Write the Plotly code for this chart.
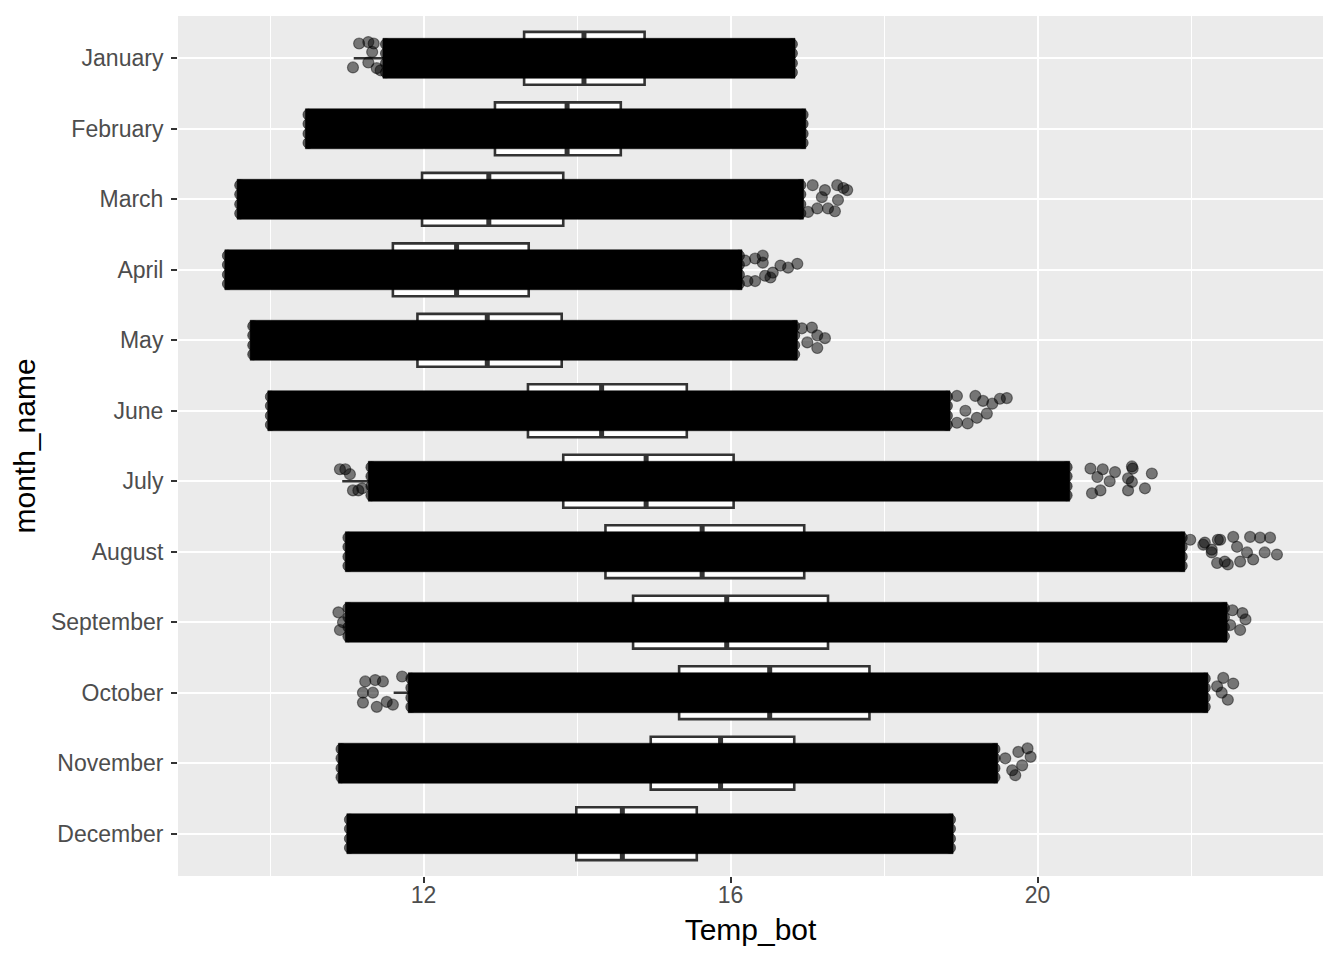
import plotly.graph_objects as go

# ---------------- data ----------------
months = ["January", "February", "March", "April", "May", "June", "July",
          "August", "September", "October", "November", "December"]

# box-plot statistics of Temp_bot per month
q1 = [13.31, 12.93, 11.98, 11.60, 11.92, 13.36, 13.82, 14.37, 14.73, 15.33, 14.96, 13.99]
median = [14.09, 13.87, 12.85, 12.43, 12.83, 14.32, 14.90, 15.63, 15.95, 16.51, 15.87, 14.59]
q3 = [14.88, 14.57, 13.82, 13.37, 13.80, 15.43, 16.04, 16.96, 17.27, 17.81, 16.83, 15.56]
lower_whisker = [11.09, 10.55, 9.65, 9.50, 9.82, 10.05, 10.94, 11.06, 11.06, 11.61, 10.97, 11.08]
upper_whisker = [16.76, 16.90, 16.88, 16.08, 16.80, 18.78, 20.34, 21.84, 22.39, 22.14, 19.40, 18.82]

# extent of the dense (over-plotted) mass of jittered points per month
dense_lo = [11.47, 10.46, 9.57, 9.41, 9.74, 9.97, 11.28, 10.98, 10.98, 11.80, 10.89, 11.00]
dense_hi = [16.84, 16.98, 16.95, 16.15, 16.87, 18.86, 20.42, 21.92, 22.47, 22.22, 19.48, 18.90]

# individually visible jittered points in the sparse tails: month, Temp_bot, jitter offset
tail_month = (
    ["January"] * 8
    + ["March"] * 11
    + ["April"] * 12
    + ["May"] * 6
    + ["June"] * 11
    + ["July"] * 20
    + ["August"] * 20
    + ["September"] * 8
    + ["October"] * 15
    + ["November"] * 7
)
tail_temp = (
    [11.08, 11.16, 11.28, 11.35, 11.33, 11.28, 11.39, 11.44]
    + [17.07, 17.23, 17.39, 17.47, 17.40, 17.27, 17.36, 17.13, 17.01, 17.19, 17.52]
    + [16.19, 16.32, 16.42, 16.42, 16.45, 16.32, 16.22, 16.52, 16.65, 16.75, 16.87, 16.55]
    + [17.06, 17.13, 17.23, 17.13, 17.00, 16.93]
    + [18.95, 19.19, 19.29, 19.41, 19.51, 19.60, 19.34, 19.21, 19.09, 18.95, 19.06]
    + [10.91, 10.98, 11.08, 11.15, 11.20, 11.04,
       20.69, 20.78, 20.85, 21.01, 20.94, 20.82, 20.71, 21.23, 21.24, 21.18, 21.23, 21.18, 21.40, 21.49]
    + [22.38, 22.55, 22.77, 22.90, 23.03, 23.12, 22.96, 22.81, 22.64, 22.48,
       22.34, 22.16, 22.27, 22.60, 22.73, 21.99, 22.18, 22.27, 22.44, 22.35]
    + [22.54, 22.67, 22.71, 22.64, 22.51, 10.89, 10.91, 10.95]
    + [11.24, 11.37, 11.21, 11.21, 11.39, 11.52, 11.60, 11.72, 11.47, 11.34,
       22.42, 22.55, 22.34, 22.40, 22.48]
    + [19.58, 19.67, 19.75, 19.80, 19.87, 19.91, 19.71]
)
tail_jitter = (
    [0.13, -0.21, -0.23, -0.21, -0.09, 0.06, 0.14, 0.17]
    + [-0.20, -0.13, -0.20, -0.16, 0.01, 0.13, 0.17, 0.13, 0.18, -0.03, -0.13]
    + [-0.13, -0.16, -0.20, -0.10, 0.085, 0.16, 0.16, 0.11, -0.06, -0.03, -0.085, 0.04]
    + [-0.18, -0.07, -0.03, 0.11, 0.03, -0.17]
    + [-0.21, -0.21, -0.14, -0.10, -0.17, -0.18, 0.04, 0.10, 0.18, 0.17, 0.0]
    + [-0.17, -0.17, 0.13, 0.13, 0.10, -0.10,
       -0.18, -0.06, -0.17, -0.13, 0.0, 0.13, 0.17, -0.21, -0.18, -0.04, 0.01, 0.13, 0.10, -0.11]
    + [-0.17, -0.21, -0.21, -0.20, -0.20, 0.04, 0.01, 0.11, 0.14, 0.18,
       0.16, -0.10, -0.03, -0.07, 0.01, -0.17, -0.13, 0.01, 0.14, -0.17]
    + [-0.17, -0.13, -0.04, 0.11, 0.04, -0.14, 0.11, 0.0]
    + [-0.16, -0.18, 0.0, 0.14, 0.20, 0.13, 0.17, -0.23, -0.16, 0.0,
       -0.21, -0.13, -0.09, 0.0, 0.10]
    + [-0.07, 0.10, -0.16, 0.03, -0.21, -0.09, 0.17]
)

# ---------------- figure ----------------
idx = {m: i for i, m in enumerate(months)}
ypos = list(range(len(months)))
BOX_W = 0.75
BAND_W = 0.567

fig = go.Figure()

fig.add_trace(go.Box(
    orientation="h",
    y=ypos,
    q1=q1, median=median, q3=q3,
    lowerfence=lower_whisker, upperfence=upper_whisker,
    width=BOX_W,
    whiskerwidth=0,
    fillcolor="white",
    line=dict(color="#333333", width=2.6),
    boxpoints=False,
    showlegend=False,
    hoverinfo="skip",
))

# thicker median line (ggplot fatten)
mx, my = [], []
for i, m in enumerate(median):
    mx += [m, m, None]
    my += [i - BOX_W / 2 + 0.01, i + BOX_W / 2 - 0.01, None]
fig.add_trace(go.Scatter(x=mx, y=my, mode="lines",
                         line=dict(color="#333333", width=5),
                         showlegend=False, hoverinfo="skip"))

# dense mass of over-plotted jittered points (drawn as filled polygons, above the boxes)
bx, by = [], []
for i, (lo, hi) in enumerate(zip(dense_lo, dense_hi)):
    bx += [lo, hi, hi, lo, lo, None]
    by += [i - BAND_W / 2, i - BAND_W / 2, i + BAND_W / 2, i + BAND_W / 2, i - BAND_W / 2, None]
fig.add_trace(go.Scatter(x=bx, y=by, mode="lines", fill="toself",
                         fillcolor="black", line=dict(color="black", width=0.5),
                         showlegend=False, hoverinfo="skip"))

# rounded ends of the dense mass (points at its extremes)
ex, ey = [], []
for i, (lo, hi) in enumerate(zip(dense_lo, dense_hi)):
    for j in (-0.2, -0.07, 0.07, 0.2):
        ex += [lo + 0.04, hi - 0.04]
        ey += [i + j, i + j]
fig.add_trace(go.Scatter(x=ex, y=ey, mode="markers",
                         marker=dict(size=11, color="rgba(0,0,0,0.6)",
                                     line=dict(color="rgba(0,0,0,0.5)", width=1)),
                         showlegend=False, hoverinfo="skip"))

# sparse jittered points
fig.add_trace(go.Scatter(
    x=tail_temp,
    y=[idx[m] + j for m, j in zip(tail_month, tail_jitter)],
    mode="markers",
    marker=dict(size=11, color="rgba(0,0,0,0.5)",
                line=dict(color="rgba(0,0,0,0.45)", width=1.2)),
    showlegend=False, hoverinfo="skip",
))

FONT = "Liberation Sans, Arial, Helvetica, sans-serif"

fig.update_layout(
    width=1336, height=952,
    margin=dict(l=170, r=21, t=8, b=84),
    paper_bgcolor="white",
    plot_bgcolor="#EBEBEB",
    font=dict(family=FONT),
    xaxis=dict(
        range=[8.80, 23.72],
        tickvals=[12, 16, 20],
        ticktext=["12", "16", "20"],
        showgrid=True, gridcolor="white", gridwidth=2.2,
        minor=dict(tickvals=[10, 14, 18, 22], showgrid=True,
                   gridcolor="white", gridwidth=1.1, ticks=""),
        zeroline=False, showline=False,
        ticks="outside", ticklen=6, tickwidth=1.6, tickcolor="#333333",
        ticklabelstandoff=-8,
        tickfont=dict(size=23, color="#4D4D4D", family=FONT),
        title=dict(text="Temp_bot", font=dict(size=30, color="black", family=FONT),
                   standoff=12),
    ),
    yaxis=dict(
        range=[11.6, -0.6],
        tickvals=ypos,
        ticktext=months,
        showgrid=True, gridcolor="white", gridwidth=2.2,
        zeroline=False, showline=False,
        ticks="outside", ticklen=6, tickwidth=1.6, tickcolor="#333333",
        ticklabelstandoff=3,
        tickfont=dict(size=23, color="#4D4D4D", family=FONT),
        title=dict(text="month_name", font=dict(size=30, color="black", family=FONT),
                   standoff=8),
    ),
)

fig.write_html("out.html")
